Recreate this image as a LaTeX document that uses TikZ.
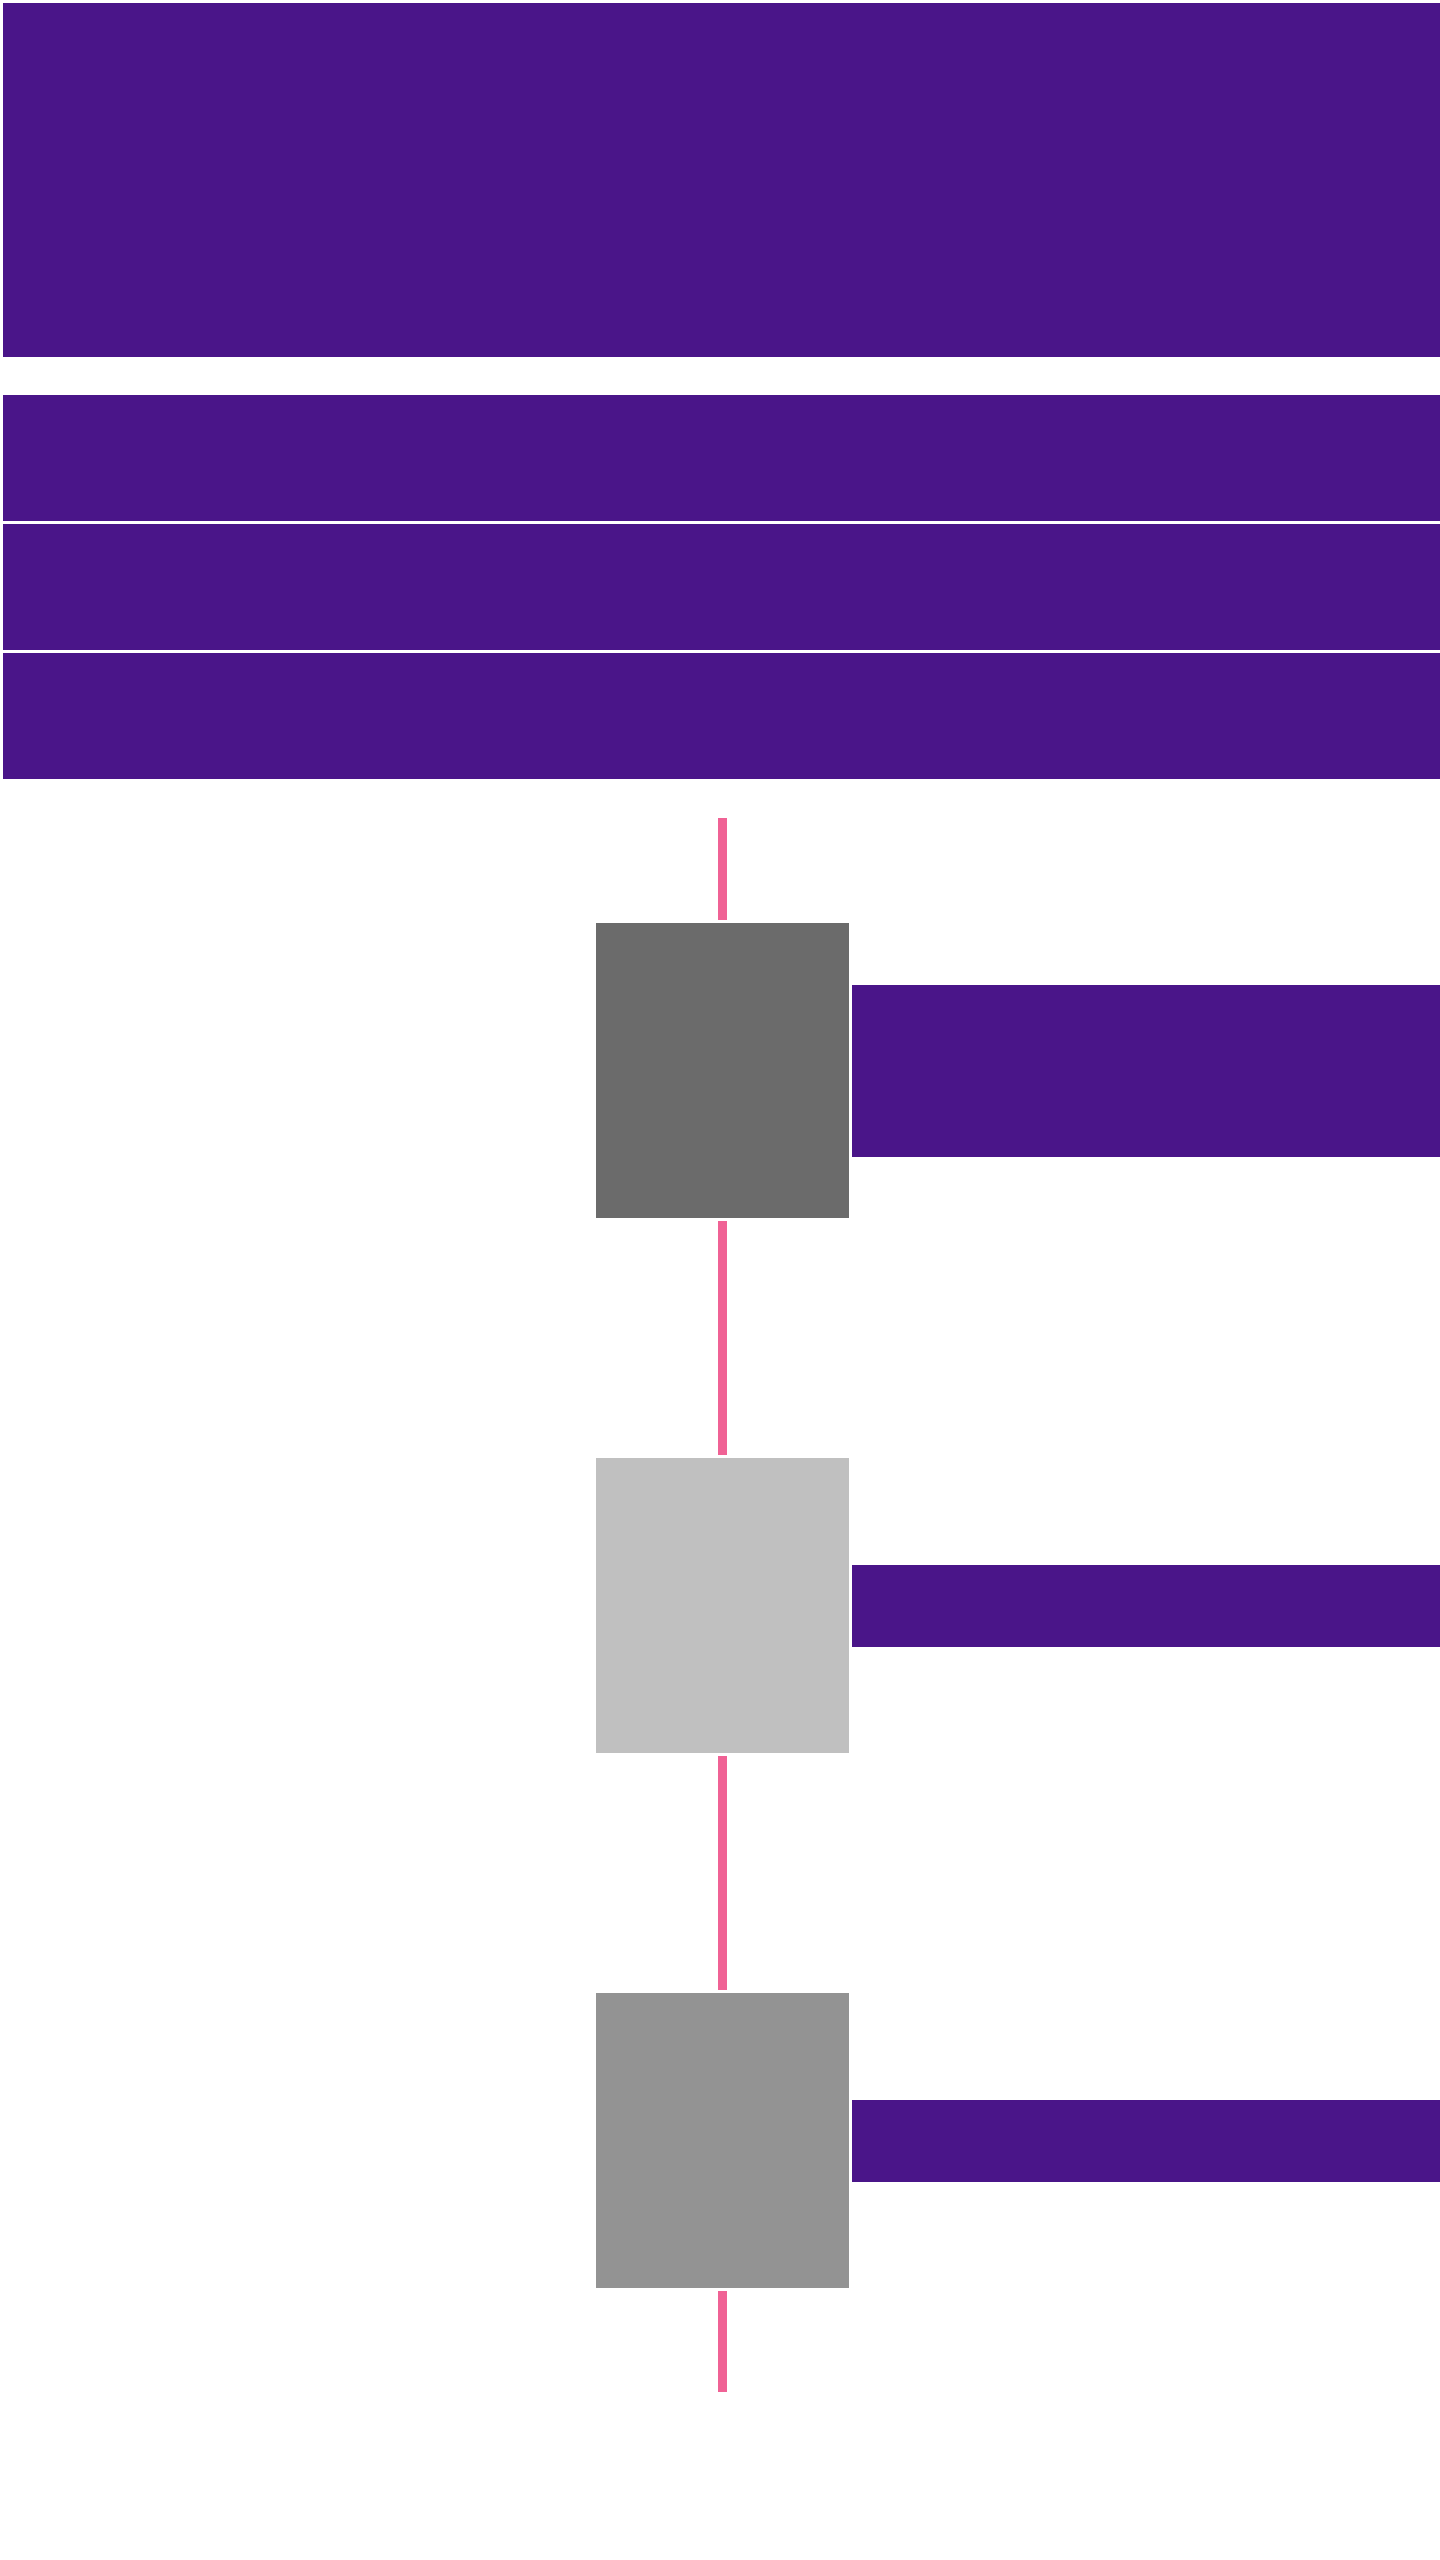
\documentclass[tikz,border=0pt]{standalone}
\usetikzlibrary{positioning}

\definecolor{hdrpurple}{RGB}{74,21,137}
\definecolor{linkpink}{RGB}{240,98,149}
\definecolor{stepdark}{RGB}{107,107,107}
\definecolor{steplight}{RGB}{192,192,192}
\definecolor{stepmid}{RGB}{147,147,147}

\begin{document}
\begin{tikzpicture}[
    x=0.1mm, y=-0.1mm,
    block/.style={
        draw=none, inner sep=0pt, outer sep=0pt,
        minimum width=143.7mm},
    hdr/.style={block, fill=hdrpurple},          % purple header bands
    stepbox/.style={draw=none, inner sep=0pt, outer sep=0pt,
        minimum width=25.3mm, minimum height=29.5mm},
    note/.style={draw=none, inner sep=0pt, outer sep=0pt,
        fill=hdrpurple, minimum width=58.8mm}, % purple side notes
    link/.style={line width=0.9mm, linkpink,
        shorten <=0.3mm, shorten >=0.3mm},
]
\useasboundingbox (0,0) rectangle (1440,2560);

% ============================ header bands ==============================
\node[hdr, minimum height=35.4mm, anchor=north west] (title) at (3,3) {};
\node[hdr, minimum height=12.6mm, below=3.8mm of title] (row1) {};
\node[hdr, minimum height=12.6mm, below=0.3mm of row1] (row2) {};
\node[hdr, minimum height=12.6mm, below=0.3mm of row2] (row3) {};

% ============================ steps =====================================
\coordinate (start) at (722,818);
\node[stepbox, fill=stepdark, anchor=north] (s1) at (722,923) {};
\node[stepbox, fill=steplight, below=24mm of s1] (s2) {};
\node[stepbox, fill=stepmid, below=24mm of s2] (s3) {};
\coordinate (stop) at (722,2392);

% ============================ side notes ================================
\node[note, minimum height=17.2mm, right=0.3mm of s1] (n1) {};
\node[note, minimum height=8.2mm, right=0.3mm of s2] (n2) {};
\node[note, minimum height=8.2mm, right=0.3mm of s3] (n3) {};

% ============================ timeline ==================================
\draw[link, shorten <=0mm] (start) -- (s1);
\draw[link] (s1) -- (s2);
\draw[link] (s2) -- (s3);
\draw[link, shorten >=0mm] (s3) -- (stop);

\end{tikzpicture}
\end{document}
